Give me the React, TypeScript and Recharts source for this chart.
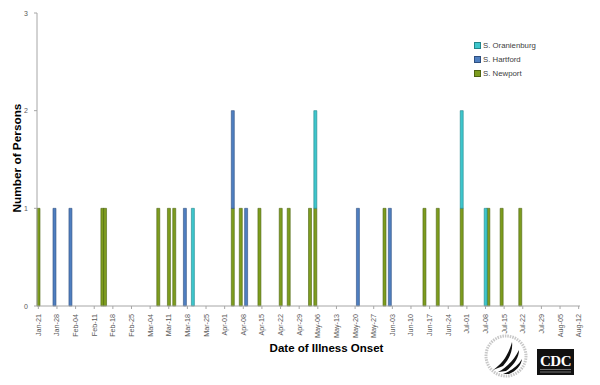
import React from "react";
import { BarChart, Bar, XAxis, YAxis } from "recharts";

// Case onset dates (2013 season), one entry per person
const newportCases = [
  "Jan-21", "Feb-14", "Feb-15", "Mar-07", "Mar-11", "Mar-13", "Apr-04", "Apr-07",
  "Apr-14", "Apr-22", "Apr-25", "May-03", "May-05", "May-31", "Jun-15", "Jun-20",
  "Jun-29", "Jul-09", "Jul-14", "Jul-21",
];
const hartfordCases = ["Jan-27", "Feb-02", "Mar-17", "Apr-04", "Apr-09", "May-21", "Jun-02"];
const oranienburgCases = ["Mar-20", "May-05", "Jun-29", "Jul-08"];

const startDate = { year: 2013, month: 0, day: 21 };
const numDays = 204; // Jan-21 .. Aug-12
const yTicks = [0, 1, 2, 3];

const seriesList = [
  { key: "newport", name: "S. Newport", fill: "#7d9c1e", stroke: "#4d6412", cases: newportCases },
  { key: "hartford", name: "S. Hartford", fill: "#4f7fc0", stroke: "#2f4f80", cases: hartfordCases },
  { key: "oranienburg", name: "S. Oranienburg", fill: "#3ec6cc", stroke: "#22858a", cases: oranienburgCases },
];

const MONTHS = ["Jan", "Feb", "Mar", "Apr", "May", "Jun", "Jul", "Aug", "Sep", "Oct", "Nov", "Dec"];

function fmt(d: Date) {
  return MONTHS[d.getMonth()] + "-" + String(d.getDate()).padStart(2, "0");
}

const data: any[] = [];
for (let i = 0; i < numDays; i++) {
  const d = new Date(startDate.year, startDate.month, startDate.day + i);
  const label = fmt(d);
  const row: any = { date: label };
  for (const s of seriesList) {
    const c = s.cases.filter((x) => x === label).length;
    row[s.key] = c > 0 ? c : null;
  }
  data.push(row);
}

const XTick = (props: any) => {
  const { x, y, payload } = props;
  return (
    <text
      x={0}
      y={0}
      transform={`translate(${x + 2.5},${y + 3}) rotate(-90)`}
      textAnchor="end"
      fontSize={7.2}
      fill="#595959"
      fontFamily="Liberation Sans, Arial, sans-serif"
    >
      {payload.value}
    </text>
  );
};

const YTick = (props: any) => {
  const { x, y, payload } = props;
  return (
    <text x={x - 4} y={y + 2.5} textAnchor="end" fontSize={7} fill="#595959" fontFamily="Liberation Sans, Arial, sans-serif">
      {payload.value}
    </text>
  );
};

const LegendBox = () => {
  const items = [...seriesList].reverse();
  return (
    <div
      style={{
        position: "absolute",
        left: 474,
        top: 38,
        fontFamily: "Liberation Sans, Arial, sans-serif",
        fontSize: 7.8,
        color: "#404040",
      }}
    >
      {items.map((s) => (
        <div key={s.key} style={{ display: "flex", alignItems: "center", height: 14.3 }}>
          <span
            style={{
              display: "inline-block",
              width: 5,
              height: 5,
              background: s.fill,
              border: `1px solid ${s.stroke}`,
              marginRight: 2,
            }}
          />
          <span>{s.name}</span>
        </div>
      ))}
    </div>
  );
};

const Logos = () => (
  <svg width={600} height={385} style={{ position: "absolute", left: 0, top: 0, pointerEvents: "none" }}>
    {/* HHS seal approximation */}
    <circle cx={506} cy={356} r={20} fill="none" stroke="#c8c8c8" strokeWidth={3} strokeDasharray="1.5 1" />
    <path d="M493 370 C502 364, 508 356, 512 342 C513 350, 510 358, 503 366 Z" fill="#111" />
    <path d="M498 372 C507 367, 514 360, 519 350 C519 358, 514 365, 506 371 Z" fill="#111" />
    <path d="M503 374 C511 371, 518 366, 522 359 C521 366, 516 371, 509 374 Z" fill="#111" />
    {/* CDC logo approximation */}
    <rect x={537} y={349} width={37} height={26} fill="#111" />
    <text x={555.5} y={366} textAnchor="middle" fontSize={15} fontWeight="bold" fill="#fff" fontFamily="Liberation Serif, serif" letterSpacing={-0.5}>
      CDC
    </text>
    <line x1={540} y1={369.5} x2={571} y2={369.5} stroke="#bbb" strokeWidth={0.6} />
    <line x1={540} y1={372} x2={571} y2={372} stroke="#bbb" strokeWidth={0.6} />
  </svg>
);

export default function App() {
  return (
    <div style={{ position: "absolute", left: 0, top: 0, width: 600, height: 385, background: "#fff" }}>
      <BarChart
        width={600}
        height={385}
        data={data}
        margin={{ top: 13, right: 20, bottom: 39, left: 12 }}
        barCategoryGap="0%"
      >
        <XAxis
          dataKey="date"
          interval={6}
          height={40}
          tick={<XTick />}
          tickSize={3}
          axisLine={{ stroke: "#a6a6a6" }}
          tickLine={{ stroke: "#a6a6a6" }}
          label={(p: any) => (
            <text x={326.5} y={351.5} textAnchor="middle" fontSize={11.5} fontWeight="bold" fill="#000" fontFamily="Liberation Sans, Arial, sans-serif">
              Date of Illness Onset
            </text>
          )}
        />
        <YAxis
          domain={[0, 3]}
          ticks={yTicks}
          width={25}
          tick={<YTick />}
          tickSize={3}
          axisLine={{ stroke: "#a6a6a6" }}
          tickLine={{ stroke: "#a6a6a6" }}
          label={(p: any) => (
            <text
              x={0}
              y={0}
              transform="translate(21,158) rotate(-90)"
              textAnchor="middle"
              fontSize={11.8}
              fontWeight="bold"
              fill="#000"
              fontFamily="Liberation Sans, Arial, sans-serif"
            >
              Number of Persons
            </text>
          )}
        />
        {seriesList.map((s) => (
          <Bar
            key={s.key}
            dataKey={s.key}
            name={s.name}
            stackId="a"
            fill={s.fill}
            stroke={s.stroke}
            strokeWidth={0.6}
            isAnimationActive={false}
          />
        ))}
      </BarChart>
      <LegendBox />
      <Logos />
    </div>
  );
}
